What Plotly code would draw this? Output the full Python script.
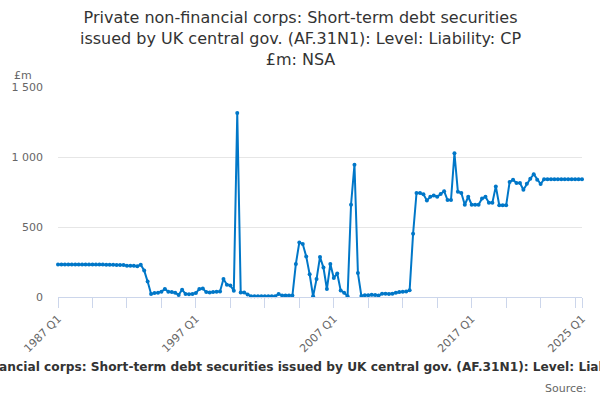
import plotly.graph_objects as go

# Quarterly labels 1987 Q1 .. 2025 Q1
quarters = [f"{y} Q{q}" for y in range(1987, 2026) for q in range(1, 5)][:153]

values = [
    232, 232, 232, 232, 232, 232, 232, 232, 232, 232,
    232, 232, 232, 232, 230, 230, 230, 228, 228, 228,
    223, 223, 223, 220, 230, 190, 110, 22, 28, 30,
    38, 58, 38, 35, 30, 15, 52, 22, 20, 22,
    28, 58, 60, 35, 32, 35, 38, 40, 128, 88,
    82, 45, 1314, 33, 33, 17, 5, 5, 5, 5,
    5, 5, 5, 5, 22, 10, 10, 10, 10, 236,
    390, 378, 290, 162, 5, 128, 286, 210, 57, 235,
    136, 168, 47, 30, 5, 659, 945, 171, 8, 12,
    12, 16, 14, 10, 24, 24, 22, 24, 30, 36,
    38, 40, 48, 452, 743, 743, 734, 690, 716, 725,
    716, 736, 756, 692, 692, 1027, 752, 743, 659, 716,
    659, 659, 659, 703, 716, 674, 674, 790, 655, 655,
    655, 821, 838, 814, 814, 766, 809, 845, 877, 838,
    807, 841, 841, 841, 841, 841, 841, 841, 841, 841,
    841, 841, 841,
]

tick_idx = list(range(0, 151, 10)) + [152]
x_tickvals = [quarters[i] for i in tick_idx]
x_ticktext = [quarters[i] if quarters[i] in ("1987 Q1", "1997 Q1", "2007 Q1", "2017 Q1", "2025 Q1") else "" for i in tick_idx]

y_tickvals = [0, 500, 1000, 1500]
y_ticktext = ["0", "500", "1 000", "1 500"]

title_text = ("Private non-financial corps: Short-term debt securities<br>"
              "issued by UK central gov. (AF.31N1): Level: Liability: CP<br>£m: NSA")
series_name = ("Private non-financial corps: Short-term debt securities issued by UK central gov. "
               "(AF.31N1): Level: Liability: CP £m: NSA")

color = "#0077c8"
font = "DejaVu Sans"

L, R, T, B = 58, 18, 87, 103
PW, PH = 600 - L - R, 400 - T - B


def px(xp):
    return (xp - L) / PW


def py(yp):
    return (400 - B - yp) / PH


fig = go.Figure()
fig.add_trace(go.Scatter(
    x=quarters, y=values, mode="lines+markers",
    line=dict(color=color, width=2),
    marker=dict(color=color, size=4),
    cliponaxis=False, showlegend=False,
))

fig.update_layout(
    width=600, height=400,
    margin=dict(l=L, r=R, t=T, b=B, autoexpand=False),
    paper_bgcolor="white", plot_bgcolor="white",
    font=dict(family=font, color="#666666", size=11),
    xaxis=dict(
        type="category", range=[0, 152], automargin=False,
        tickmode="array", tickvals=x_tickvals, ticktext=x_ticktext,
        tickangle=-45, ticks="outside", ticklen=10, tickcolor="#ccd6eb",
        showline=True, linecolor="#ccd6eb", linewidth=1,
        showgrid=False, zeroline=False,
        tickfont=dict(size=11, color="#666666"),
    ),
    yaxis=dict(
        range=[0, 1500], automargin=False,
        tickmode="array", tickvals=y_tickvals, ticktext=y_ticktext,
        showgrid=True, gridcolor="#e6e6e6", gridwidth=1,
        zeroline=False, showline=False, ticks="",
        ticklabelstandoff=14,
        tickfont=dict(size=11, color="#666666"),
    ),
    annotations=[
        dict(text=title_text, xref="paper", yref="paper", x=px(300), y=py(6),
             xanchor="center", yanchor="top", showarrow=False,
             font=dict(family=font, size=16, color="#333333")),
        dict(text="£m", xref="paper", yref="paper", x=px(12), y=py(75), xanchor="left",
             yanchor="middle", showarrow=False, font=dict(size=11, color="#666666")),
        dict(text=f"<b>{series_name}</b>", xref="paper", yref="paper", x=px(310), y=py(367),
             xanchor="center", yanchor="middle", showarrow=False,
             font=dict(size=12.2, color="#333333")),
        dict(text="Source:", xref="paper", yref="paper", x=px(589), y=py(388),
             xanchor="right", yanchor="middle", showarrow=False,
             font=dict(size=11, color="#666666")),
    ],
)

fig.write_html("out.html", config={"displayModeBar": False},
               post_script="document.body.style.margin='0';")
